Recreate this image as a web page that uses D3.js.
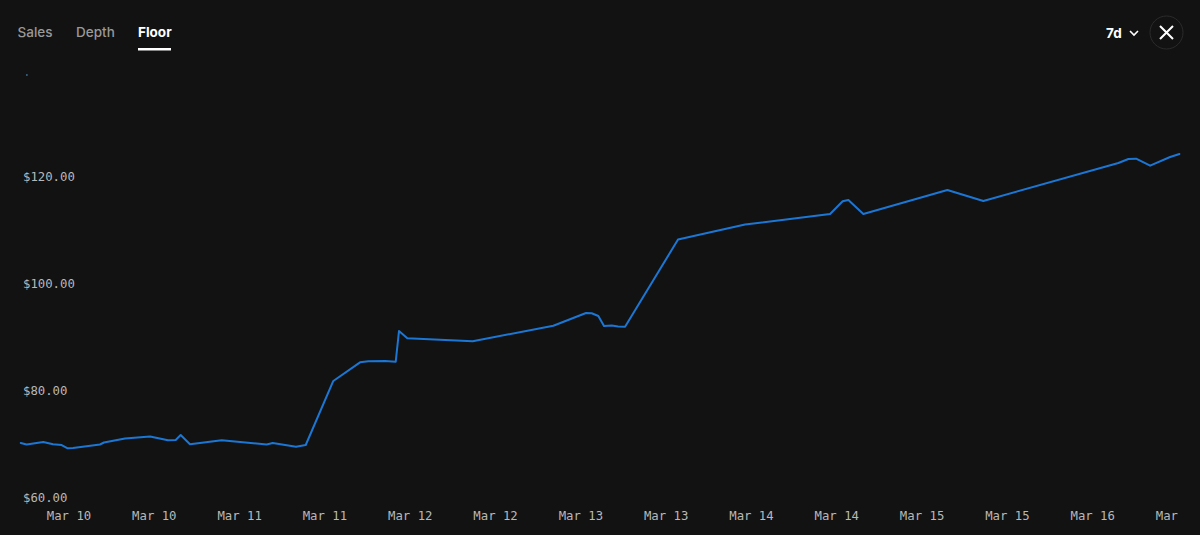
<!DOCTYPE html>
<html>
<head>
<meta charset="utf-8">
<script src="https://cdn.jsdelivr.net/npm/d3@7"></script>
<style>
  html, body { margin: 0; padding: 0; background: #121212; overflow: hidden; }
  svg { display: block; }
  .axis text { font-family: "DejaVu Sans Mono", monospace; font-size: 12.3px; fill: #b8b8b8; }
  .tab { font-family: Inter, "Noto Sans", sans-serif; font-size: 13.5px; font-weight: 500; fill: #999999; }
  .tab.active { font-weight: 700; fill: #ffffff; }
</style>
</head>
<body>
<div id="chart"></div>
<script>
// hours since Mar 10 00:00
const hours = [-0.72, 0.12, 2.45, 3.82, 5.04, 5.89, 6.63, 10.43, 10.99, 13.95, 17.47, 20.0, 21.08, 21.78, 23.09,
  27.55, 33.88, 34.73, 38.0, 39.37, 43.25, 47.01, 48.18, 50.52, 52.03, 52.49, 53.66, 62.86, 74.2, 78.8, 79.6,
  80.53, 81.33, 82.42, 83.3, 84.29, 91.74, 101.17, 113.13, 114.9, 115.7, 117.81, 129.63, 134.69, 153.68, 155.09,
  156.17, 158.15, 160.96, 162.27]

// floor price, USD
const floors = [70.19, 69.91, 70.37, 69.94, 69.81, 69.2, 69.25, 69.91, 70.28, 71.03, 71.4, 70.69, 70.75, 71.68, 69.94,
  70.69, 69.91, 70.19, 69.5, 69.81, 81.78, 85.27, 85.46, 85.51, 85.38, 91.12, 89.76, 89.2, 92.11, 94.49, 94.43,
  93.93, 92.06, 92.15, 91.96, 91.93, 108.22, 111.03, 112.99, 115.36, 115.61, 112.99, 117.48, 115.42, 122.52, 123.27,
  123.33, 122.02, 123.64, 124.21]

const xTicks = [6, 18, 30, 42, 54, 66, 78, 90, 102, 114, 126, 138, 150, 162]
const xLabels = ['Mar 10', 'Mar 10', 'Mar 11', 'Mar 11', 'Mar 12', 'Mar 12', 'Mar 13', 'Mar 13', 'Mar 14', 'Mar 14',
  'Mar 15', 'Mar 15', 'Mar 16', 'Mar 16']
const yTicks = [60, 80, 100, 120, 140]
const tabs = ['Sales', 'Depth', 'Floor']
const activeTab = 'Floor'
const period = '7d'

const width = 1200, height = 535

const svg = d3.select('#chart').append('svg')
  .attr('width', width)
  .attr('height', height)

const x = d3.scaleLinear().domain([6, 162]).range([68.5, 1177.5])
const y = d3.scaleLinear().domain([60, 140]).range([497.5, 69.5])

// the axes get cut off at the edges of the plot, same as the original
const defs = svg.append('defs')
defs.append('clipPath').attr('id', 'clip-y')
  .append('rect').attr('x', 0).attr('y', 74).attr('width', 100).attr('height', 440)
defs.append('clipPath').attr('id', 'clip-x')
  .append('rect').attr('x', 0).attr('y', 505).attr('width', 1178).attr('height', 30)

svg.append('g')
  .attr('class', 'axis')
  .attr('clip-path', 'url(#clip-y)')
  .append('g')
  .attr('transform', 'translate(23,0)')
  .call(d3.axisLeft(y).tickValues(yTicks).tickSize(0).tickPadding(0).tickFormat(d => '$' + d3.format('.2f')(d)))
  .call(g => g.select('.domain').remove())
  .call(g => g.selectAll('text').attr('text-anchor', 'start'))

svg.append('g')
  .attr('class', 'axis')
  .attr('clip-path', 'url(#clip-x)')
  .append('g')
  .attr('transform', 'translate(0,511.5)')
  .call(d3.axisBottom(x).tickValues(xTicks).tickSize(0).tickPadding(0).tickFormat((d, i) => xLabels[i]))
  .call(g => g.select('.domain').remove())

const line = d3.line()
  .x((d, i) => x(hours[i]))
  .y(d => y(d))

svg.append('path')
  .datum(floors)
  .attr('fill', 'none')
  .attr('stroke', '#1c76d4')
  .attr('stroke-width', 2)
  .attr('stroke-linejoin', 'round')
  .attr('stroke-linecap', 'round')
  .attr('d', line)

// tabs
const tabX = d3.scaleOrdinal().domain(tabs).range([17.5, 76, 138])

svg.selectAll('.tab')
  .data(tabs)
  .enter()
  .append('text')
  .attr('class', d => d === activeTab ? 'tab active' : 'tab')
  .attr('x', d => tabX(d))
  .attr('y', 37)
  .text(d => d)

svg.append('rect')
  .attr('x', tabX(activeTab))
  .attr('y', 48)
  .attr('width', 33)
  .attr('height', 2.5)
  .attr('fill', '#ffffff')

// period dropdown + close button
svg.append('text')
  .attr('x', 1106)
  .attr('y', 38)
  .attr('font-family', 'Inter, "Noto Sans", sans-serif')
  .attr('font-size', 13.5)
  .attr('font-weight', 700)
  .attr('fill', '#ffffff')
  .text(period)

svg.append('path')
  .attr('d', 'M1130 31 L1134 35 L1138 31')
  .attr('fill', 'none')
  .attr('stroke', '#ffffff')
  .attr('stroke-width', 1.6)

svg.append('circle')
  .attr('cx', 1166.5)
  .attr('cy', 32.5)
  .attr('r', 16.5)
  .attr('fill', 'none')
  .attr('stroke', '#2b2b2b')

svg.append('path')
  .attr('d', 'M1160 26 L1173 39 M1173 26 L1160 39')
  .attr('fill', 'none')
  .attr('stroke', '#ffffff')
  .attr('stroke-width', 2)
</script>
</body>
</html>
